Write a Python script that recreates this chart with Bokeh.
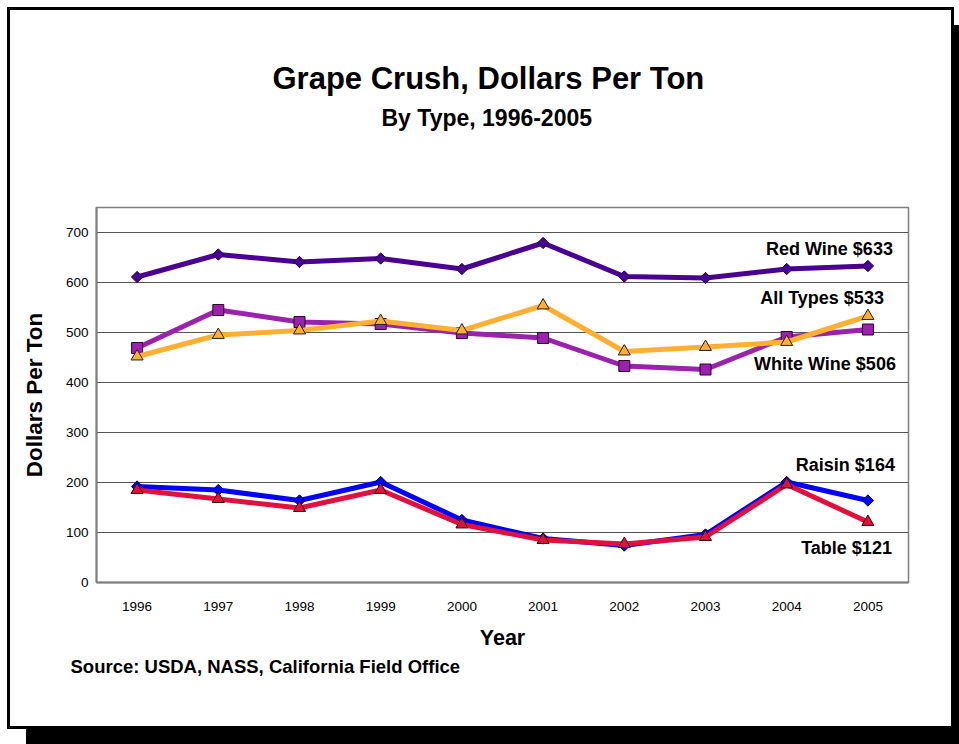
from bokeh.plotting import figure
from bokeh.models import ColumnDataSource, FactorRange, FixedTicker, Title
from bokeh.core.properties import value
from bokeh.embed import file_html
from bokeh.resources import INLINE
import numpy as np

years = ["1996", "1997", "1998", "1999", "2000", "2001", "2002", "2003", "2004", "2005"]
red_wine = [611, 656, 641, 648, 627, 679, 612, 609, 627, 633]
white_wine = [469, 545, 521, 517, 499, 489, 433, 426, 491, 506]
all_types = [452, 495, 504, 523, 504, 554, 462, 471, 481, 533]
raisin = [192, 185, 164, 201, 125, 88, 74, 96, 201, 164]
table = [185, 167, 149, 185, 116, 85, 77, 91, 196, 121]

label_names = ["Red Wine", "All Types", "White Wine", "Raisin", "Table "]
label_last = [red_wine[-1], all_types[-1], white_wine[-1], raisin[-1], table[-1]]
label_y = [668, 570, 438, 236, 70]
label_dx = [25, 16, 28, 27, 29]
y_ticks = [0, 100, 200, 300, 400, 500, 600, 700]

title_text = "Grape Crush, Dollars Per Ton"
subtitle_text = "By Type, 1996-2005"
source_text = "Source:  USDA, NASS, California Field Office"

FONT = "Liberation Sans"

p = figure(width=941, height=716, x_range=FactorRange(*years, range_padding=0),
           y_range=(0, 750), output_backend="svg", toolbar_location=None,
           min_border_left=86, min_border_right=43, min_border_top=197, min_border_bottom=144,
           background_fill_color="white", border_fill_color="white",
           styles={"margin-left": "10px", "margin-top": "10px",
                   "outline": "3px solid black",
                   "box-shadow": "19px 18px 0px 3px black"})

p.outline_line_color = "#7f7f7f"
p.outline_line_width = 1.5
p.xgrid.grid_line_color = None
p.ygrid.ticker = FixedTicker(ticks=y_ticks)
p.ygrid.grid_line_color = "#555555"
p.ygrid.grid_line_width = 1

p.yaxis.ticker = FixedTicker(ticks=y_ticks)
for ax in (p.xaxis[0], p.yaxis[0]):
    ax.major_tick_line_color = None
    ax.major_tick_out = 0
    ax.major_tick_in = 0
    ax.minor_tick_line_color = None
    ax.minor_tick_out = 0
    ax.axis_line_color = "#7f7f7f"
    ax.axis_line_width = 2
    ax.major_label_text_font = FONT
    ax.major_label_text_font_size = "13.5px"
    ax.major_label_text_color = "black"
    ax.axis_label_text_font = FONT
    ax.axis_label_text_font_style = "bold"
    ax.axis_label_text_color = "black"

p.yaxis.axis_label = "Dollars Per Ton"
p.yaxis.axis_label_text_font_size = "22.5px"
p.yaxis.major_label_standoff = 8
p.yaxis.axis_label_standoff = 16
p.xaxis.axis_label = "Year"
p.xaxis.axis_label_text_font_size = "21.5px"
p.xaxis.major_label_standoff = 19
p.xaxis.axis_label_standoff = 12

src = ColumnDataSource(dict(x=years, red=red_wine, white=white_wine, all=all_types,
                            raisin=raisin, table=table))

RED_C = "#4a0090"
WHITE_C = "#9b22ad"
ALL_C = "#ffb031"
RAISIN_C = "#0000ff"
TABLE_C = "#e0103f"

p.line("x", "red", source=src, line_color=RED_C, line_width=5)
p.scatter("x", "red", source=src, marker="square", angle=np.pi / 4, size=8,
          fill_color=RED_C, line_color="#200040", line_width=1)

p.line("x", "white", source=src, line_color=WHITE_C, line_width=5)
p.scatter("x", "white", source=src, marker="square", size=11,
          fill_color=WHITE_C, line_color="#300030", line_width=1)

p.line("x", "raisin", source=src, line_color=RAISIN_C, line_width=5)
p.scatter("x", "raisin", source=src, marker="square", angle=np.pi / 4, size=8,
          fill_color=RAISIN_C, line_color="#000060", line_width=1)

p.line("x", "table", source=src, line_color=TABLE_C, line_width=5)
p.scatter("x", "table", source=src, marker="triangle", size=12,
          fill_color=TABLE_C, line_color="#300000", line_width=1)

p.line("x", "all", source=src, line_color=ALL_C, line_width=5)
p.scatter("x", "all", source=src, marker="triangle", size=12,
          fill_color=ALL_C, line_color="#202020", line_width=1)

lab_src = ColumnDataSource(dict(
    x=[years[-1]] * len(label_names),
    y=label_y,
    dx=label_dx,
    text=[f"{n} ${v}" for n, v in zip(label_names, label_last)],
))
p.text("x", "y", text="text", source=lab_src, x_offset="dx", text_align="right",
       text_baseline="middle", text_font=value(FONT), text_font_size="18px",
       text_font_style="bold", text_color="black")

# titles: a blank spacer nearest the frame, then the subtitle, then the main title (outermost)
spacer = Title(text=" ", text_font_size="1px", standoff=74)
p.add_layout(spacer, "above")
subtitle = Title(text=subtitle_text, align="left", offset=285, standoff=0,
                 text_font=FONT, text_font_size="23px", text_font_style="bold",
                 text_color="black")
p.add_layout(subtitle, "above")

p.title.text = title_text
p.title.align = "left"
p.title.offset = 176
p.title.standoff = 13
p.title.text_font = FONT
p.title.text_font_size = "31px"
p.title.text_font_style = "bold"
p.title.text_color = "black"

source_title = Title(text=source_text, align="left", offset=-26, standoff=3,
                     text_font=FONT, text_font_size="18.5px", text_font_style="bold",
                     text_color="black")
p.add_layout(source_title, "below")

open("out.html", "w").write(file_html(p, INLINE))
